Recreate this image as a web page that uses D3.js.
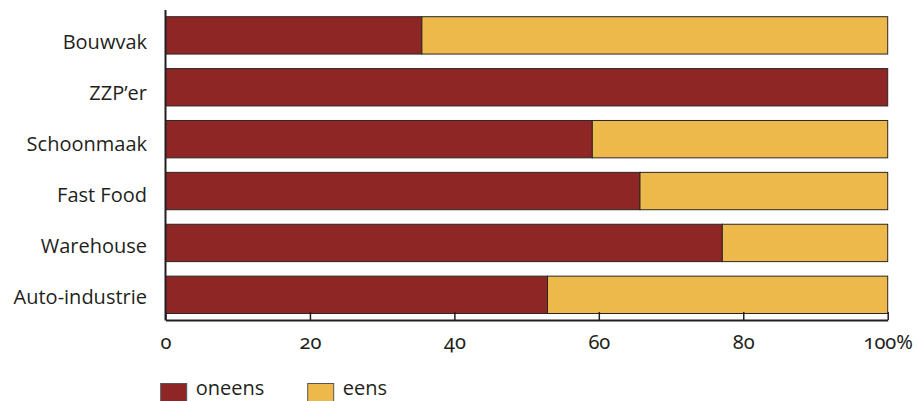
<!DOCTYPE html>
<html>
<head>
<meta charset="utf-8">
<script src="https://cdn.jsdelivr.net/npm/d3@7"></script>
<style>
  html, body { margin: 0; padding: 0; background: #fff; }
  svg { display: block; }
  .lbl { font-family: "Open Sans", "Noto Sans", sans-serif; font-size: 20px; fill: #231f20; }
  .tick text { font-family: "Noto Sans", "Open Sans", sans-serif; font-size: 20px; fill: #231f20;
               font-feature-settings: "onum" 1; font-variant-numeric: oldstyle-nums; }
</style>
</head>
<body>
<svg id="chart" width="918" height="401"></svg>
<script>
// Share (%) disagreeing vs agreeing, per sector
const categories = ["Bouwvak", "ZZP\u2019er", "Schoonmaak", "Fast Food", "Warehouse", "Auto-industrie"];
const oneens = [35.5, 100, 59.1, 65.7, 77.1, 52.9];
const eens   = [64.5, 0, 40.9, 34.3, 22.9, 47.1];
const seriesNames = ["oneens", "eens"];
const seriesColors = ["#8f2626", "#ecb94a"];
const tickValues = [0, 20, 40, 60, 80, 100];

const svg = d3.select("#chart");

const x = d3.scaleLinear().domain([0, 100]).range([165.5, 887.7]);
const y = d3.scaleBand().domain(categories).range([16.7, 313.5]).paddingInner(0.28).paddingOuter(0);
// label rows sit on a slightly tighter pitch than the bars
const yLabel = d3.scalePoint().domain(categories).range([41.7, 297]);
const color = d3.scaleOrdinal().domain(seriesNames).range(seriesColors);

// stacked bars
const rows = categories.map((c, i) => ({ cat: c, oneens: oneens[i], eens: eens[i] }));
const stack = d3.stack().keys(seriesNames)(rows);

svg.append("g")
  .selectAll("g")
  .data(stack)
  .join("g")
    .attr("fill", d => color(d.key))
  .selectAll("rect")
  .data(d => d.filter(p => p[1] - p[0] > 0))
  .join("rect")
    .attr("x", d => x(d[0]))
    .attr("y", d => y(d.data.cat))
    .attr("width", d => x(d[1]) - x(d[0]))
    .attr("height", y.bandwidth())
    .attr("stroke", "#2b2624")
    .attr("stroke-width", 1);

// category labels
svg.append("g")
  .selectAll("text")
  .data(categories)
  .join("text")
    .attr("class", "lbl")
    .attr("x", 147)
    .attr("y", d => yLabel(d))
    .attr("dy", "0.35em")
    .attr("text-anchor", "end")
    .text(d => d);

// left axis line
svg.append("line")
  .attr("x1", x(0)).attr("x2", x(0))
  .attr("y1", 10).attr("y2", 320.5)
  .attr("stroke", "#231f20").attr("stroke-width", 2);

// bottom axis with ticks pointing up
const xAxis = d3.axisBottom(x)
  .tickValues(tickValues)
  .tickSizeInner(-8)
  .tickSizeOuter(0)
  .tickPadding(15)
  .tickFormat(d => d === 100 ? "100%" : String(d));

const gx = svg.append("g")
  .attr("transform", "translate(0,320)")
  .call(xAxis);
gx.select(".domain").attr("stroke", "#231f20").attr("stroke-width", 2);
gx.selectAll(".tick line").attr("stroke", "#231f20").attr("stroke-width", 1.5);
gx.selectAll(".tick text").attr("fill", "#231f20");

// legend
const legendX = [160.7, 307.7];
const legend = svg.append("g")
  .selectAll("g")
  .data(seriesNames)
  .join("g")
    .attr("transform", (d, i) => `translate(${legendX[i]},383.5)`);
legend.append("rect")
  .attr("width", 26).attr("height", 26)
  .attr("fill", d => color(d))
  .attr("stroke", "#555").attr("stroke-width", 1);
legend.append("text")
  .attr("class", "lbl")
  .attr("x", 35)
  .attr("y", 11.5)
  .text(d => d);
</script>
</body>
</html>
